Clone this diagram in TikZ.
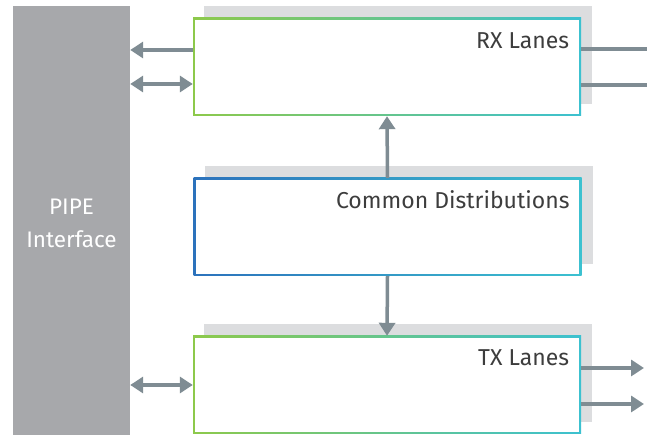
\documentclass[tikz,border=0pt]{standalone}
\usepackage{fontspec}
\setmainfont{Fira Sans}
\usepackage{tikz}
\usepackage{xcolor}
\usetikzlibrary{arrows.meta,shadows}
\definecolor{pipegray}{HTML}{A7A8AB}
\definecolor{shadowgray}{HTML}{DCDDDF}
\definecolor{linkgray}{HTML}{7F8C93}
\definecolor{lanegreen}{HTML}{8DC94B}
\definecolor{lanecyan}{HTML}{3CC1D0}
\definecolor{distblue}{HTML}{2C72BC}
\definecolor{titlegray}{HTML}{3D3D3D}
\tikzset{
    lane-box/.style = {rectangle, minimum width=388pt, minimum height=98pt, inner sep=0pt,
        left color=lanegreen, right color=lanecyan,
        drop shadow={shadow xshift=11pt, shadow yshift=12pt, fill=shadowgray, opacity=1},
        path picture={\fill[white] ([shift={(2.2pt,2.2pt)}]path picture bounding box.south west)
            rectangle ([shift={(-2.2pt,-2.2pt)}]path picture bounding box.north east);}},
    dist-box/.style = {lane-box, left color=distblue, right color=lanecyan},
    box-title/.style = {text=titlegray, font=\fontsize{23}{27}\selectfont, anchor=base east, inner sep=0pt},
    pipe-bar/.style = {fill=pipegray, rectangle, minimum width=117pt, minimum height=435pt, inner sep=0pt,
        text=white, font=\fontsize{22.5}{33}\selectfont, align=center},
    link/.style = {draw=linkgray, line width=3.5pt, -{Triangle[length=13pt,width=16pt]}},
    link-both/.style = {link, {Triangle[length=13pt,width=16pt]}-{Triangle[length=13pt,width=16pt]}},
    link-plain/.style = {draw=linkgray, line width=3.5pt},
}

\begin{document}
\begin{tikzpicture}[x=1pt,y=1pt]
\useasboundingbox (0,0) rectangle (647,435);
\node [pipe-bar] (pipe) at (71.5,211.5) {PIPE\\Interface};

\node [lane-box] (rx) at (387,368) {};
\node [dist-box] (dist) at (387.5,208) {};
\node [lane-box] (tx) at (387,50) {};

\node [box-title] at ([xshift=-12pt,yshift=-31pt]rx.north east) {RX Lanes};
\node [box-title] at ([xshift=-12pt,yshift=-31pt]dist.north east) {Common Distributions};
\node [box-title] at ([xshift=-12pt,yshift=-30pt]tx.north east) {TX Lanes};

% RX lanes
\draw [link] ([yshift=17pt]rx.west) -- ([yshift=17pt]rx.west -| pipe.east);
\draw [link-both] ([yshift=-17pt]rx.west -| pipe.east) -- ([yshift=-17pt]rx.west);
\coordinate (rx-out1) at (647,386);
\coordinate (rx-out2) at (647,350);
\draw [link-plain] (rx.east |- rx-out1) -- (rx-out1);
\draw [link-plain] (rx.east |- rx-out2) -- (rx-out2);

% common distributions
\draw [link] (dist.north) -- (rx.south);
\draw [link] (dist.south) -- (tx.north);

% TX lanes
\draw [link-both] (tx.west -| pipe.east) -- (tx.west);
\coordinate (tx-out1) at (644,67);
\coordinate (tx-out2) at (644,31);
\draw [link] (tx.east |- tx-out1) -- (tx-out1);
\draw [link] (tx.east |- tx-out2) -- (tx-out2);
\end{tikzpicture}
\end{document}
